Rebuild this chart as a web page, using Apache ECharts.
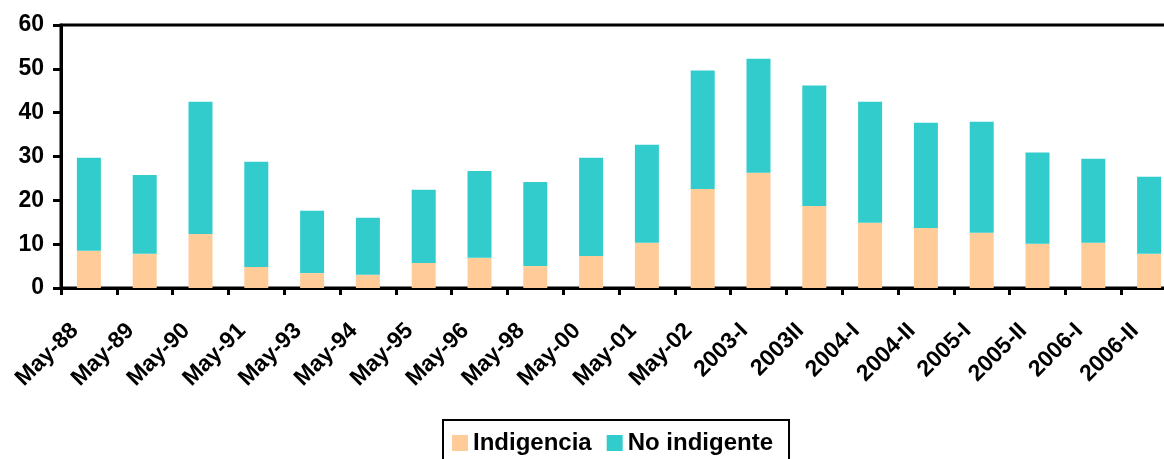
<!DOCTYPE html>
<html>
<head>
<meta charset="utf-8">
<script src="https://cdn.jsdelivr.net/npm/echarts@6/dist/echarts.min.js"></script>
<style>
html,body{margin:0;padding:0;background:#fff;overflow:hidden;}
#chart{width:1180px;height:459px;}
</style>
</head>
<body>
<div id="chart"></div>
<script>
var categories=['May-88','May-89','May-90','May-91','May-93','May-94','May-95','May-96','May-98','May-00','May-01','May-02','2003-I','2003II','2004-I','2004-II','2005-I','2005-II','2006-I','2006-II'];
var indigencia=[8.5,7.8,12.3,4.8,3.4,3.0,5.7,6.9,5.0,7.3,10.3,22.6,26.3,18.7,14.9,13.7,12.6,10.1,10.3,7.8];
var noIndigente=[21.2,18.0,30.2,24.0,14.2,13.0,16.7,19.8,19.2,22.4,22.4,27.0,26.0,27.5,27.6,24.0,25.3,20.8,19.2,17.6];
var yTicks=[0,10,20,30,40,50,60];

var font='"Liberation Sans", Arial, sans-serif';
var chart=echarts.init(document.getElementById('chart'));
chart.setOption({
  animation:false,
  backgroundColor:'#fff',
  textStyle:{fontFamily:font},
  // plot area runs past the right edge of the window, as in the reference
  grid:{left:61,top:25,right:3,bottom:171,show:true,borderColor:'#000',borderWidth:3},
  legend:{
    left:443,top:420,
    orient:'horizontal',
    borderColor:'#000',borderWidth:2,
    padding:[11,16,20,9],
    itemWidth:16,itemHeight:16,itemGap:15,
    icon:'rect',
    textStyle:{fontFamily:font,fontWeight:'bold',fontSize:24,color:'#000'},
    data:['Indigencia','No indigente']
  },
  xAxis:{
    type:'category',
    data:categories,
    axisLine:{lineStyle:{color:'#000',width:3}},
    axisTick:{show:true,interval:0,length:7,lineStyle:{color:'#000',width:3}},
    axisLabel:{interval:0,rotate:45,margin:25,padding:[0,20,0,0],color:'#000',fontWeight:'bold',fontSize:23,fontFamily:font},
    splitLine:{show:false}
  },
  yAxis:{
    type:'value',
    min:yTicks[0],max:yTicks[yTicks.length-1],interval:10,
    axisLine:{show:true,lineStyle:{color:'#000',width:3}},
    axisTick:{show:true,length:8,lineStyle:{color:'#000',width:3}},
    axisLabel:{margin:17,color:'#000',fontWeight:'bold',fontSize:23,fontFamily:font},
    splitLine:{show:false}
  },
  series:[
    {name:'Indigencia',type:'bar',stack:'total',barWidth:24,data:indigencia,itemStyle:{color:'#FFCC99'}},
    {name:'No indigente',type:'bar',stack:'total',barWidth:24,data:noIndigente,itemStyle:{color:'#33CCCC'}}
  ]
});
</script>
</body>
</html>
